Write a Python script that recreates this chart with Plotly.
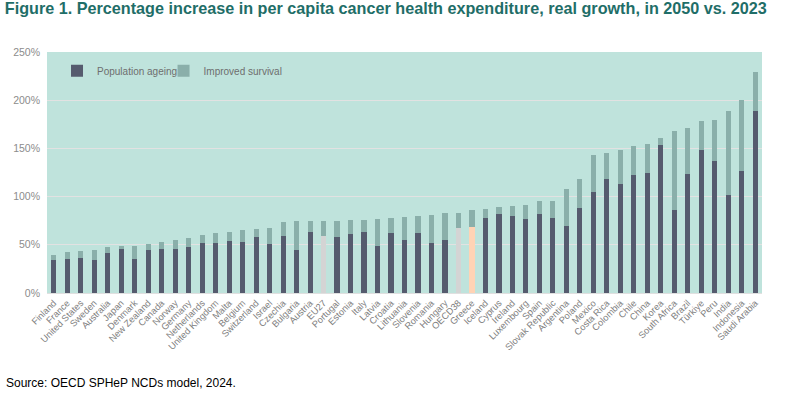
import plotly.graph_objects as go

countries = ["Finland", "France", "United States", "Sweden", "Australia", "Japan", "Denmark",
             "New Zealand", "Canada", "Norway", "Germany", "Netherlands", "United Kingdom", "Malta",
             "Belgium", "Switzerland", "Israel", "Czechia", "Bulgaria", "Austria", "EU27", "Portugal",
             "Estonia", "Italy", "Latvia", "Croatia", "Lithuania", "Slovenia", "Romania", "Hungary",
             "OECD38", "Greece", "Iceland", "Cyprus", "Ireland", "Luxembourg", "Spain",
             "Slovak Republic", "Argentina", "Poland", "Mexico", "Costa Rica", "Colombia", "Chile",
             "China", "Korea", "South Africa", "Brazil", "Türkiye", "Peru", "India", "Indonesia",
             "Saudi Arabia"]

population_ageing = [33.9, 35.3, 36.3, 33.9, 41.5, 46.0, 34.9, 44.6, 45.3, 45.3, 47.4, 51.5, 51.5,
                     53.6, 52.6, 57.7, 50.6, 59.0, 44.4, 63.2, 58.7, 58.3, 61.1, 63.2, 48.6, 62.2,
                     54.9, 62.2, 51.7, 54.9, 67.4, 68.0, 78.1, 81.9, 79.9, 76.8, 81.8, 78.2, 69.6,
                     88.6, 105.2, 118.3, 113.5, 122.1, 124.2, 154.0, 85.8, 123.9, 148.8, 137.0,
                     102.1, 127.0, 189.3]

total_increase = [39.8, 42.9, 43.6, 44.3, 47.4, 49.1, 49.1, 50.5, 53.3, 55.3, 56.7, 59.8, 62.2,
                  63.6, 65.7, 66.4, 67.1, 73.6, 74.3, 74.7, 74.7, 74.7, 75.3, 75.3, 77.1, 77.4,
                  78.5, 79.9, 80.9, 82.6, 82.6, 86.5, 86.8, 89.2, 90.6, 90.8, 95.6, 95.5, 108.3,
                  118.3, 143.6, 145.3, 148.1, 152.9, 154.7, 160.9, 168.5, 171.3, 178.2, 179.6,
                  188.6, 199.7, 229.1]

improved_survival = [round(t - p, 1) for t, p in zip(total_increase, population_ageing)]

y_ticks = [0, 50, 100, 150, 200, 250]
y_tick_labels = ["0%", "50%", "100%", "150%", "200%", "250%"]

DARK = "#555B6E"
LIGHT = "#8AAFAA"
GREY = "#D4D4D4"
PEACH = "#FFD3B5"

highlight = {"EU27": GREY, "OECD38": GREY, "Greece": PEACH}
dark_colors = [highlight.get(c, DARK) for c in countries]

fig = go.Figure()
fig.add_trace(go.Bar(x=countries, y=population_ageing, name="Population ageing",
                     marker=dict(color=dark_colors, line=dict(width=0)), legend="legend"))
fig.add_trace(go.Bar(x=countries, y=improved_survival, name="Improved survival",
                     marker=dict(color=LIGHT, line=dict(width=0)), legend="legend2"))

sans = "Liberation Sans, Arial, sans-serif"
legend_common = dict(orientation="h", y=0.982, xanchor="left", yanchor="top",
                     bgcolor="rgba(0,0,0,0)", font=dict(family=sans, size=10, color="#6E6E6E"),
                     itemwidth=30)

fig.update_layout(
    width=795, height=398,
    barmode="stack", bargap=0.62,
    paper_bgcolor="white", plot_bgcolor="#BFE3DC",
    margin=dict(l=47, r=33, t=52, b=105, autoexpand=False),
    showlegend=True,
    legend=dict(x=0.014, **legend_common),
    legend2=dict(x=0.163, **legend_common),
    title=dict(text="<b>Figure 1. Percentage increase in per capita cancer health expenditure, real growth, in 2050 vs. 2023</b>",
               x=0.006, xanchor="left", y=0.993, yanchor="top",
               font=dict(family=sans, size=16.2, color="#1F6E68")),
    xaxis=dict(tickangle=-45, tickfont=dict(family=sans, size=9.3, color="#808080"),
               showgrid=False, showline=True, linecolor="#E0E0E0", linewidth=1, ticks="",
               automargin=False),
    yaxis=dict(range=[0, 250], tickvals=y_ticks, ticktext=y_tick_labels,
               tickfont=dict(family=sans, size=10.5, color="#8C8C8C"),
               gridcolor="#E2E2E2", gridwidth=1, zeroline=False, showline=False,
               automargin=False, ticklabelstandoff=6),
    annotations=[dict(text="Source: OECD SPHeP NCDs model, 2024.", xref="paper", yref="paper",
                      x=-0.060, y=-0.375, xanchor="left", yanchor="middle", showarrow=False,
                      font=dict(family=sans, size=12, color="#000000"))],
)

# remove the default 8px page margin so the figure sits at the window's top-left corner
fig.write_html("out.html", config={"displayModeBar": False},
               post_script="document.body.style.margin='0px';")
